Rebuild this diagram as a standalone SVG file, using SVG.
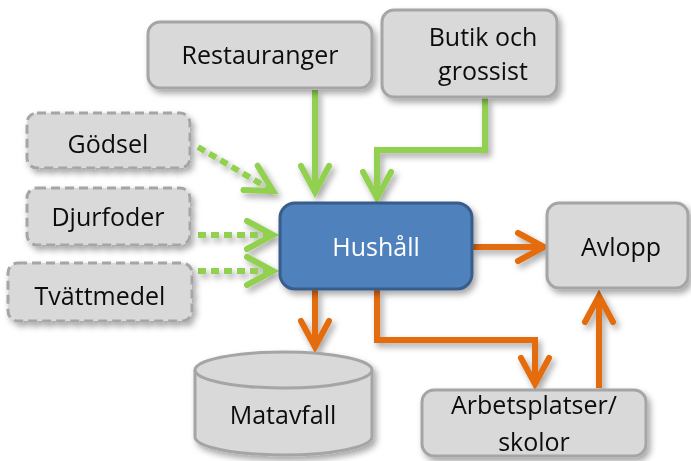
<svg xmlns="http://www.w3.org/2000/svg" width="691" height="461" viewBox="0 0 691 461">
  <defs>
    <filter id="shadow" x="-20%" y="-20%" width="140%" height="150%">
      <feDropShadow dx="3" dy="4" stdDeviation="3" flood-color="#000" flood-opacity="0.35"/>
    </filter>
    <marker id="headGreen" markerUnits="userSpaceOnUse" markerWidth="40" markerHeight="40" refX="0" refY="0" orient="auto" overflow="visible">
      <path d="M-26,-14 L0,0 L-26,14" fill="none" stroke="#92D050" stroke-width="6" stroke-linecap="round" stroke-linejoin="miter"/>
    </marker>
    <marker id="headOrange" markerUnits="userSpaceOnUse" markerWidth="40" markerHeight="40" refX="0" refY="0" orient="auto" overflow="visible">
      <path d="M-26,-14 L0,0 L-26,14" fill="none" stroke="#E46C0A" stroke-width="6" stroke-linecap="round" stroke-linejoin="miter"/>
    </marker>
  </defs>
  <style>
    .box { fill: #D9D9D9; stroke: #A5A5A5; stroke-width: 3; }
    .dashed { stroke-dasharray: 9 5; }
    .main { fill: #4F81BD; stroke: #385D8A; stroke-width: 3; }
    .label { font-family: "Open Sans", "Liberation Sans", sans-serif; font-size: 25px; fill: #0D0D0D; text-anchor: middle; }
    .light { fill: #FFFFFF; }
    .green { fill: none; stroke: #92D050; stroke-width: 6; marker-end: url(#headGreen); }
    .dotted { stroke-dasharray: 8 5; }
    .orange { fill: none; stroke: #E46C0A; stroke-width: 6; marker-end: url(#headOrange); }
  </style>

  <!-- connectors -->
  <g id="connectors" filter="url(#shadow)">
    <path class="green" d="M315,90 L315,192"/>
    <path class="green" d="M485,98 L485,150 L377,150 L377,198"/>
    <path class="green dotted" d="M198,147 L273,191"/>
    <path class="green dotted" d="M198,235 L273,235"/>
    <path class="green dotted" d="M198,271 L273,271"/>
    <path class="orange" d="M473,247 L544,247"/>
    <path class="orange" d="M315,290 L315,347"/>
    <path class="orange" d="M377,290 L377,340 L535,340 L535,384"/>
    <path class="orange" d="M599,388 L599,296"/>
  </g>

  <g id="restauranger" filter="url(#shadow)">
    <rect class="box" x="148" y="22" width="224" height="66" rx="12"/>
    <text class="label" x="260" y="64">Restauranger</text>
  </g>

  <g id="butik" filter="url(#shadow)">
    <rect class="box" x="382" y="10" width="175" height="87" rx="12"/>
    <text class="label" x="483" y="46">Butik och</text>
    <text class="label" x="483" y="80">grossist</text>
  </g>

  <g id="godsel" filter="url(#shadow)">
    <rect class="box dashed" x="27" y="113" width="163" height="55" rx="10"/>
    <text class="label" x="108" y="153">Gödsel</text>
  </g>

  <g id="djurfoder" filter="url(#shadow)">
    <rect class="box dashed" x="27" y="188" width="163" height="57" rx="10"/>
    <text class="label" x="108" y="226">Djurfoder</text>
  </g>

  <g id="tvattmedel" filter="url(#shadow)">
    <rect class="box dashed" x="8" y="263" width="184" height="58" rx="10"/>
    <text class="label" x="100" y="305">Tvättmedel</text>
  </g>

  <g id="hushall" filter="url(#shadow)">
    <rect class="main" x="280" y="203" width="192" height="86" rx="15"/>
    <text class="label light" x="376" y="256">Hushåll</text>
  </g>

  <g id="avlopp" filter="url(#shadow)">
    <rect class="box" x="547" y="203" width="141" height="85" rx="12"/>
    <text class="label" x="621" y="256">Avlopp</text>
  </g>

  <g id="matavfall" filter="url(#shadow)">
    <path class="box" d="M195,370 A88.5,18 0 0 1 372,370 L372,437 A88.5,18 0 0 1 195,437 Z"/>
    <path class="box" d="M195,370 A88.5,18 0 0 0 372,370" fill="none"/>
    <text class="label" x="283" y="424">Matavfall</text>
  </g>

  <g id="arbetsplatser" filter="url(#shadow)">
    <rect class="box" x="422" y="390" width="224" height="66" rx="12"/>
    <text class="label" x="534" y="414">Arbetsplatser/</text>
    <text class="label" x="534" y="451">skolor</text>
  </g>
</svg>
